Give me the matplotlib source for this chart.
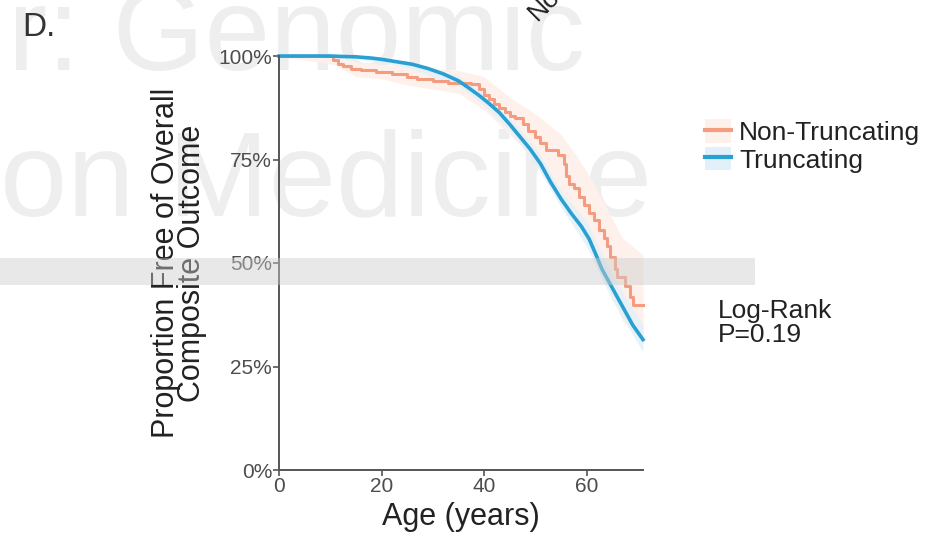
import numpy as np
import matplotlib
matplotlib.use('Agg')
import matplotlib.pyplot as plt
from matplotlib.patches import Patch, Rectangle
from matplotlib.lines import Line2D
from matplotlib.ticker import FuncFormatter

plt.rcParams['font.family'] = ['Liberation Sans', 'DejaVu Sans']

# --- data ---
# Non-Truncating (step KM curve)
nt_age = [0, 10.5, 11.5, 12.5, 14, 16, 19, 22, 25, 27, 30, 33, 37.5, 39, 40, 41, 42, 43,
          44, 45, 46, 47.5, 48.5, 50, 51, 52, 54.5, 55.5, 56, 56.5, 57.5, 58.5, 59.5,
          60.5, 61.5, 62.5, 63.3, 64, 64.5, 65.5, 66, 67.5, 68.5, 69, 71]
nt_surv = [100, 99, 98, 97.5, 96.9, 96.5, 96.1, 95.6, 95.0, 94.5, 94.0, 93.5, 93.2, 92.0,
           90.5, 89.5, 88.5, 87.5, 86.5, 85.5, 85.0, 83.5, 82.0, 80.5, 79.0, 77.3, 76.0,
           74, 71, 69, 68, 66, 64, 62, 60.5, 58, 56, 54, 51.5, 48.5, 46.6, 44.5, 41.8,
           39.9, 39.9]
nt_ci_age = [0, 10.5, 15, 20, 25, 30, 35, 40, 45, 50, 55, 58, 61, 64, 67, 71]
nt_ci_lo = [100, 98, 95, 94.5, 93, 92, 91, 87, 81, 75, 67, 60, 53, 45, 36, 31]
nt_ci_hi = [100, 100, 98.5, 98, 97.5, 97, 96.5, 95, 90, 86, 81, 76, 70, 63, 56, 52]

# Truncating (many small steps, drawn as a line)
tr_age = [0, 10, 12, 15, 18, 20, 23, 26, 29, 32, 35, 37, 39, 41, 43, 45, 47, 49, 51, 53,
          55, 57, 59, 60.5, 62, 63, 65, 67, 69, 71]
tr_surv = [100, 100, 99.9, 99.8, 99.5, 99.2, 98.6, 98, 97, 95.7, 94, 92.3, 90.5, 88.5,
           86.3, 83.5, 80.5, 77.5, 74, 69.5, 65.5, 62, 58.8, 55.8, 51.5, 48.5, 44, 39.5,
           35, 31.5]
tr_ci_age = [0, 15, 25, 35, 40, 45, 50, 55, 60, 65, 71]
tr_ci_lo = [100, 99.3, 97.3, 92.8, 88, 82, 74, 63.5, 54, 41, 28.5]
tr_ci_hi = [100, 100, 98.8, 95.2, 91, 85, 78, 67.5, 60, 47, 35]

groups = ['Non-Truncating', 'Truncating']
y_ticks = [0, 25, 50, 75, 100]
x_ticks = [0, 20, 40, 60]

orange = '#F39C7F'
blue = '#2A9FD2'
orange_fill = '#FEF1EC'
blue_fill = '#E1F0F9'
tick_col = '#4d4d4d'

fig = plt.figure(figsize=(9.38, 5.37), dpi=100)

# watermark behind everything
fig.text(0.009, 0.870, 'r: Genomic', fontsize=85, color='#eeeeee', ha='left',
         va='baseline', zorder=-2)
fig.text(0.0, 0.600, 'on Medicine', fontsize=87, color='#eeeeee', ha='left',
         va='baseline', zorder=-2)

ax = fig.add_axes([279 / 938, 1 - 470 / 537, 364 / 938, 414 / 537])
ax.patch.set_alpha(0)

ax.fill_between(nt_ci_age, nt_ci_lo, nt_ci_hi, color=orange_fill, lw=0)
ax.fill_between(tr_ci_age, tr_ci_lo, tr_ci_hi, color=blue_fill, alpha=0.8, lw=0)
ax.plot(nt_age, nt_surv, drawstyle='steps-post', color=orange, lw=2.2, clip_on=False)
ax.plot(tr_age, tr_surv, color=blue, lw=2.6, clip_on=False)

ax.set_xlim(0, 71)
ax.set_ylim(0, 100)
ax.set_xticks(x_ticks)
ax.set_yticks(y_ticks)
ax.yaxis.set_major_formatter(FuncFormatter(lambda v, p: f'{v:.0f}%'))
for s in ['top', 'right']:
    ax.spines[s].set_visible(False)
for s in ['left', 'bottom']:
    ax.spines[s].set_color('#555555')
    ax.spines[s].set_linewidth(1.4)
ax.tick_params(colors='#555555', labelcolor=tick_col, labelsize=15, length=4,
               width=1.2, pad=1)
ax.set_xlabel('Age (years)', fontsize=22, color='#222222', labelpad=4)
ax.set_ylabel('Proportion Free of Overall\nComposite Outcome', fontsize=22,
              color='#222222', linespacing=0.85, labelpad=8)

handles = [(Patch(facecolor=orange_fill, edgecolor='none'), Line2D([], [], color=orange, lw=3)),
           (Patch(facecolor=blue_fill, edgecolor='none'), Line2D([], [], color=blue, lw=3))]
fig.legend(handles, groups, loc='center left', bbox_to_anchor=(705 / 938, 1 - 146 / 537),
           frameon=False, fontsize=19, handlelength=1.0, handleheight=1.0,
           handletextpad=0.3, labelspacing=0.05, borderpad=0, borderaxespad=0,
           labelcolor='#222222')

fig.text(718 / 938, 1 - 323 / 537, 'Log-Rank\nP=0.19', fontsize=19, color='#222222',
         ha='left', va='center', linespacing=0.95)

fig.text(22 / 938, 1 - 36 / 537, 'D.', fontsize=24, color='#333333', ha='left',
         va='baseline')
fig.text(541 / 938, 1 - 25 / 537, 'Non-Truncating', fontsize=19, color='#222222',
         rotation=45, rotation_mode='anchor', ha='left', va='bottom')

# grey band across the middle
fig.add_artist(Rectangle((0, 1 - 285 / 537), 755 / 938, 27 / 537,
                         transform=fig.transFigure, color='#cccccc', alpha=0.45,
                         lw=0, zorder=10))

fig.savefig('out.png', dpi=100)
